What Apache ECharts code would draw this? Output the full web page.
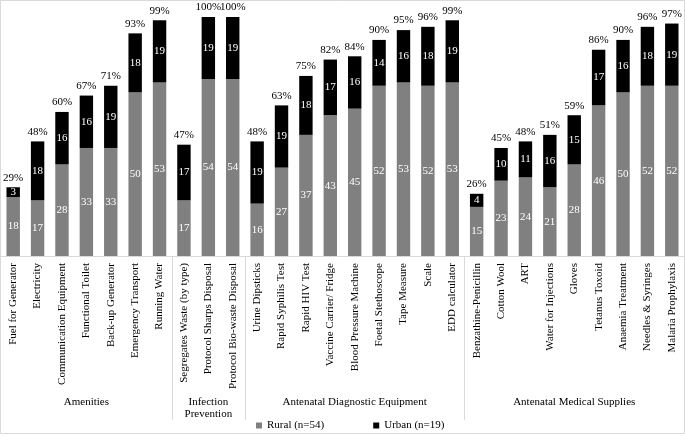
<!DOCTYPE html>
<html>
<head>
<meta charset="utf-8">
<script src="https://cdn.jsdelivr.net/npm/echarts@6/dist/echarts.min.js"></script>
<style>
html,body{margin:0;padding:0;background:#fff;}
#chart{width:685px;height:436px;}
</style>
</head>
<body>
<div id="chart"></div>
<script>
const categories = [
  'Fuel for Generator','Electricity','Communication Equipment','Functional Toilet','Back-up Generator','Emergency Transport','Running Water',
  'Segregates Waste (by type)','Protocol Sharps Disposal','Protocol Bio-waste Disposal',
  'Urine Dipsticks','Rapid Syphilis Test','Rapid HIV Test','Vaccine Carrier/ Fridge','Blood Pressure Machine','Foetal Stethoscope','Tape Measure','Scale','EDD calculator',
  'Benzathine-Penicillin','Cotton Wool','ART','Water for Injections','Gloves','Tetanus Toxoid','Anaemia Treatment','Needles & Syringes','Malaria Prophylaxis'
];
const rural = [18,17,28,33,33,50,53, 17,54,54, 16,27,37,43,45,52,53,52,53, 15,23,24,21,28,46,50,52,52];
const urban = [3,18,16,16,19,18,19, 17,19,19, 19,19,18,17,16,14,16,18,19, 4,10,11,16,15,17,16,18,19];
const pctLabels = ['29%','48%','60%','67%','71%','93%','99%','47%','100%','100%','48%','63%','75%','82%','84%','90%','95%','96%','99%','26%','45%','48%','51%','59%','86%','90%','96%','97%'];
const groupNames = ['Amenities','Infection\nPrevention','Antenatal Diagnostic Equipment','Antenatal Medical Supplies'];
const groupSizes = [7,3,9,9];
const seriesNames = ['Rural (n=54)','Urban (n=19)'];
const totalN = 73;

const FONT = '"Liberation Serif", "Times New Roman", serif';
const chart = echarts.init(document.getElementById('chart'), null, {renderer:'canvas'});

const option = {
  animation: false,
  textStyle: {fontFamily: FONT},
  grid: {left: 1, right: 1, top: 17, bottom: 180, containLabel: false},
  legend: {
    data: seriesNames,
    left: 251, top: 415,
    itemWidth: 6, itemHeight: 6, itemGap: 49,
    icon: 'rect',
    textStyle: {fontFamily: FONT, fontSize: 11, color: '#000'}
  },
  xAxis: {
    type: 'category',
    data: categories,
    axisLine: {lineStyle: {color: '#d9d9d9'}},
    axisTick: {show: false},
    axisLabel: {rotate: 90, interval: 0, margin: 7, fontFamily: FONT, fontSize: 11, color: '#000'}
  },
  yAxis: {
    type: 'value', min: 0, max: totalN, show: false,
    splitLine: {show: false}
  },
  series: [
    {
      name: seriesNames[0], type: 'bar', stack: 's', data: rural,
      barCategoryGap: '45%',
      itemStyle: {color: '#808080'},
      label: {show: true, position: 'inside', color: '#fff', fontFamily: FONT, fontSize: 11}
    },
    {
      name: seriesNames[1], type: 'bar', stack: 's', data: urban,
      itemStyle: {color: '#000'},
      label: {show: true, position: 'inside', color: '#fff', fontFamily: FONT, fontSize: 11}
    },
    {
      name: 'pct', type: 'bar', stack: 's', data: rural.map(() => 0),
      itemStyle: {color: 'transparent'},
      label: {show: true, position: 'top', distance: 4, color: '#000', fontFamily: FONT, fontSize: 11,
        formatter: p => pctLabels[p.dataIndex]}
    }
  ]
};
chart.setOption(option);

// separators and group labels from axis pixel positions
const cx = i => chart.convertToPixel({xAxisIndex: 0}, i);
const step = cx(1) - cx(0);
const axisY = chart.convertToPixel({yAxisIndex: 0}, 0);
const graphics = [];
graphics.push({type: 'rect', shape: {x: 0.5, y: 0.5, width: 684, height: 433}, style: {fill: 'none', stroke: '#d9d9d9', lineWidth: 1}, silent: true});
let start = 0;
groupSizes.forEach((n, g) => {
  const leftX = cx(start) - step / 2;
  const rightX = cx(start + n - 1) + step / 2;
  if (g > 0) {
    const x = Math.round(leftX) + 0.5;
    graphics.push({type: 'line', shape: {x1: x, y1: axisY, x2: x, y2: 420}, style: {stroke: '#d9d9d9', lineWidth: 1}, silent: true});
  }
  graphics.push({type: 'text', x: (leftX + rightX) / 2, y: 396,
    style: {text: groupNames[g], fontFamily: FONT, fontSize: 11, fill: '#000', align: 'center', verticalAlign: 'top', lineHeight: 12}, silent: true});
  start += n;
});
chart.setOption({graphic: graphics});
</script>
</body>
</html>
